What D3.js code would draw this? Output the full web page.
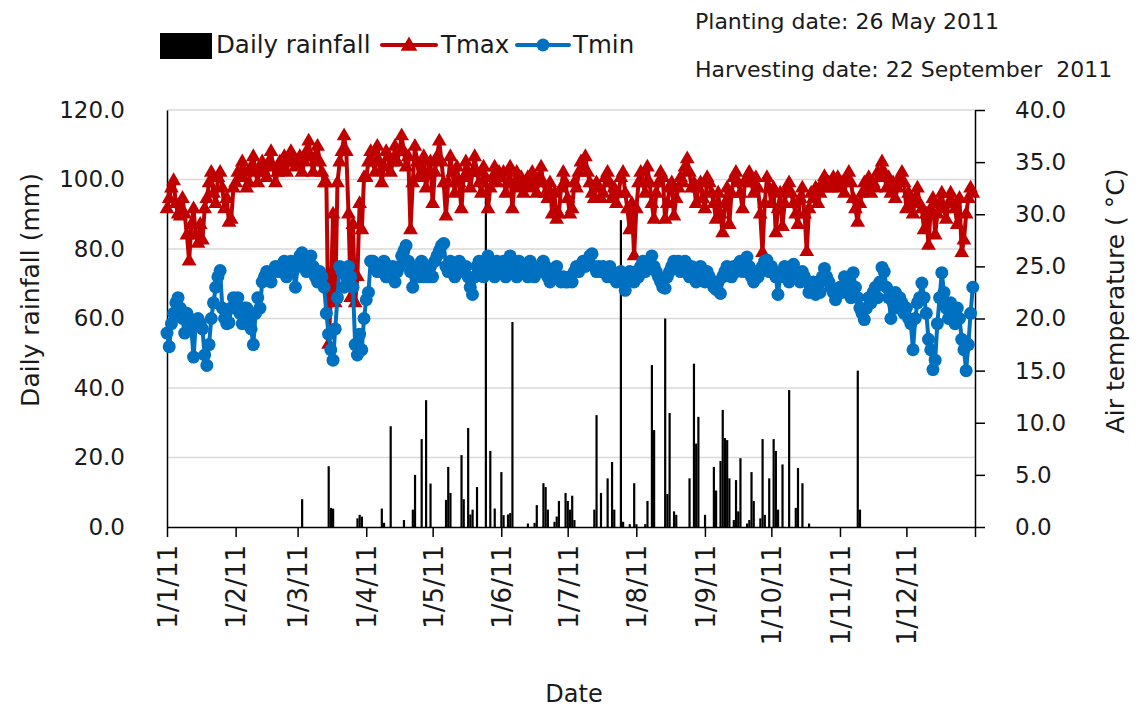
<!DOCTYPE html>
<html>
<head>
<meta charset="utf-8">
<script src="https://cdn.jsdelivr.net/npm/d3@7"></script>
<style>
  body { margin: 0; background: #fff; }
  text { font-family: "DejaVu Sans", sans-serif; fill: #1a1a1a; }
</style>
</head>
<body>
<script>
// Daily max temperature (deg C), 1 Jan - 31 Dec 2011, one line per month
var tmax = [
  30.5, 31.5, 32.5, 33.2, 31, 30, 29.8, 31.5, 30, 28, 25.5, 29, 30.5, 28, 27.2, 29, 27.5, 30.5, 31.5, 33, 34, 32, 31, 33.5, 34, 32.5, 30.5, 31.5, 29.2, 29.5, 32.5,
  33, 34, 33.5, 35, 34, 32.5, 33, 34.5, 35.5, 34, 33, 34.5, 35, 34, 33.5, 35, 36, 34.5, 33, 34, 35, 34.5, 35.5, 34, 35, 36, 35, 34.5,
  35, 35.5, 34, 35, 36, 37, 35.5, 34, 35.5, 36.5, 35, 34, 33, 33, 17.5, 22, 30, 21.5, 33, 35, 36, 37.5, 36, 30, 22, 29, 21.5, 24, 31, 28.5, 33.5,
  33.5, 35, 36, 35, 34, 36.5, 35, 33, 34.5, 36, 35.5, 34, 35, 36.5, 35, 36, 37.5, 36, 34.5, 35.5, 28.5, 33, 36.5, 35, 33.5, 34, 35.5, 32.5, 34, 35,
  31, 34, 35.5, 37, 35, 33, 29.8, 33, 35.5, 34, 32, 34.5, 33, 30.5, 33.5, 35, 34, 32.5, 34, 35.5, 34, 33, 32, 34.5, 33.5, 30.5, 32.5, 33.5, 34.5, 33, 34,
  33.5, 34, 32, 33, 34.5, 30.5, 33, 34, 32.5, 33.5, 32, 33, 33.5, 32.5, 34, 33, 32, 33.5, 34.5, 33, 32, 31.5, 33, 30, 32, 29.5, 30, 32.5, 34, 33,
  31.5, 30, 30.5, 33, 32.5, 34, 35, 34.5, 35.5, 34, 33, 32, 31.5, 33, 32.5, 31.5, 32, 33.5, 34, 33, 31.5, 32.5, 31, 32, 33.5, 34, 32, 30.5, 28.5, 31, 26,
  30.5, 33, 34, 33, 32, 34.5, 33, 31, 29.5, 32, 33, 34, 33.5, 29.5, 31, 32.5, 33, 29.8, 31.5, 32.5, 33.5, 33, 34.5, 35.3, 34, 32.5, 33, 31, 32.5, 33, 31.5,
  30.5, 33.5, 33, 32, 31, 29.5, 32, 30, 28.2, 31, 32.5, 29, 32, 33.5, 34, 33, 32, 30.5, 33, 33.5, 34, 33, 32, 33.5, 32.5, 30, 26.3, 31, 33.5, 32.5,
  31, 32.5, 28.2, 30.5, 32, 28.8, 31, 32.5, 33, 32, 31, 30, 29, 31.5, 32.5, 30, 26.4, 30.5, 32, 31.5, 32.5, 31, 32, 33, 33.6, 32.5, 33, 32.5, 33.5, 32.8, 33.5,
  32.5, 33, 32, 33.5, 34, 33, 31.5, 30.5, 29.2, 31, 32, 33, 32.5, 33.5, 32, 33, 32.5, 34, 33.5, 35, 34, 32.5, 33.5, 32, 33, 31.5, 32.5, 33.5, 34, 33,
  30.5, 32, 31, 30, 31.5, 32.5, 31, 30.5, 28.5, 30, 27, 30.5, 31.5, 28, 30, 31, 32, 30.5, 29.5, 31, 32, 31, 30.5, 29, 31.5, 26.3, 27.5, 30, 31.5, 32.5, 32
];

// Daily min temperature (deg C)
var tmin = [
  18.6, 17.3, 19.5, 20.5, 21.5, 22, 21, 20, 18.6, 20.5, 20, 19, 16.3, 19.5, 20, 19.5, 19, 16.5, 15.5, 17.5, 20, 21.5, 23, 24, 24.6, 21, 20, 19.5, 19.6, 21, 22,
  21, 22, 20.5, 19.5, 21, 21, 20, 19, 17.5, 20.5, 22, 21, 23.5, 24, 24.5, 24.2, 23.5, 24.5, 25, 24.5, 25, 24.5, 25.5, 24, 25, 25.5, 24.5, 23,
  25, 26, 26.3, 25.5, 24.5, 25.5, 26, 25, 24, 23.5, 24.5, 24, 23, 20.5, 18.5, 17, 16, 19, 22, 25, 24.5, 23, 24.5, 25, 24, 23, 17.5, 16.5, 18.5, 17, 20,
  21.8, 22.5, 25.5, 25.5, 25, 24.5, 25, 24.5, 25.5, 24, 25, 24.5, 25, 23.5, 24.5, 25, 26, 26.5, 27, 25.5, 24.5, 23, 24.5, 25, 24, 25.5, 24, 25, 24, 25,
  24, 25.5, 26, 26.5, 27, 27.2, 25, 24.5, 25.5, 25, 24, 24.5, 25.5, 25, 24.5, 25, 24, 23, 22.3, 24, 25, 25.5, 24.5, 24, 25.5, 26, 25, 24.5, 24, 25.5, 24.5,
  25, 25.5, 24, 25, 26, 25, 24.5, 24, 25.5, 25, 24.5, 25, 24, 25.5, 25, 24, 24.5, 25, 24.5, 25.5, 25, 24, 23.5, 24, 24.5, 25, 24, 23.5, 24, 23.5,
  23.5, 24, 23.5, 24.5, 25, 24.5, 25, 25.5, 25, 25.5, 26, 26.2, 25, 24.5, 25, 24.5, 25, 24.5, 24, 25, 24.5, 24, 23.5, 24, 24.5, 23.5, 22.7, 24, 24.5, 24, 23.5,
  24.5, 24, 25, 25.5, 24.5, 25, 25.5, 26, 25, 24.5, 24, 23.5, 23, 22.9, 24, 24.5, 25, 25.5, 25, 25.5, 24.5, 25, 25.5, 24.5, 24, 25, 24.5, 23.5, 24.5, 25, 24,
  23.5, 24.5, 24, 23.5, 23, 22.8, 23.5, 22.4, 24, 24.5, 25, 24.5, 24, 25, 24.5, 25, 25.5, 24.5, 25, 25.9, 25, 24, 23.5, 24.5, 24, 24.5, 25, 25.5, 25.6, 24.5,
  25, 24.5, 24, 22.3, 24, 24.5, 25, 24, 23.5, 24.5, 25.2, 24.5, 24, 23.5, 24.5, 24, 23.5, 22.5, 23, 23.5, 22.3, 23, 22.5, 24, 24.8, 24, 23.5, 23, 22.5, 21.8, 22.5,
  23, 22.5, 24, 23.5, 22.5, 22, 24.4, 23, 22, 21, 20.5, 19.9, 21, 22, 21.5, 22.5, 23, 22, 23.5, 24.9, 24.5, 23, 22, 20, 21.5, 22.5, 21, 22, 21.5, 20.5,
  21, 20, 19.5, 17, 20, 21.5, 22, 23.4, 22, 20.5, 18, 17, 15.1, 16, 19.5, 22, 24.4, 22.5, 21, 20, 21.5, 20.5, 19.5, 21, 20, 18, 17, 15, 17.5, 20.5, 23
];

// Rain days (day of year, 0 = 1 Jan) and amount (mm); other days are dry
var rainDay = [61, 73, 74, 75, 86, 87, 88, 97, 98, 101, 107, 111, 112, 115, 117, 119,
  126, 127, 128, 133, 134, 136, 137, 138, 140, 144, 146, 148, 151, 152, 154, 155, 156, 163, 166, 167, 170, 171, 172, 175, 176, 177, 180, 181,
  182, 183, 184, 193, 194, 196, 199, 201, 202, 205, 206, 209, 211, 212, 216, 217, 219, 220, 225, 226, 227, 229, 230, 236, 238, 239, 240,
  243, 247, 248, 250, 251, 252, 253, 254, 256, 257, 258, 259, 262, 263, 264, 265, 268, 269, 270, 272, 274, 275, 276, 278, 281, 284, 285, 287, 290,
  312, 313];
var rainMm = [8, 17.5, 5.5, 5.3, 2.5, 3.5, 3, 5.3, 1.2, 29, 2, 5, 15, 25.3, 36.5, 12.5,
  7.8, 17.3, 9.8, 20.7, 8, 28.5, 3.6, 5, 11.5, 98.5, 21.9, 5.3, 15.8, 3.4, 3.6, 4, 59, 1, 1.2, 6.3, 12.6, 11.5, 5, 1.5, 3, 7.5, 9.8, 7.5,
  5, 9, 2, 5, 32.2, 9.8, 14, 18.7, 5, 88.3, 1.5, 0.8, 12.6, 0.8, 0.8, 7.5, 46.6, 27.9, 60, 9.5, 32.8, 4.5, 3.5, 14, 47, 24, 31.7,
  3.5, 17.3, 10.5, 19, 33.7, 25.6, 25, 14, 2, 13.5, 4.5, 19.8, 1, 2, 15.8, 7.5, 2.5, 25.3, 3.5, 14, 25.3, 21.9, 5, 18, 39.4, 5.5, 17, 12.6, 1,
  45, 5];

var monthLabels = ["1/1/11", "1/2/11", "1/3/11", "1/4/11", "1/5/11", "1/6/11", "1/7/11", "1/8/11", "1/9/11", "1/10/11", "1/11/11", "1/12/11"];
var rainTicks = [0, 20, 40, 60, 80, 100, 120];
var tempTicks = [0, 5, 10, 15, 20, 25, 30, 35, 40];

var width = 1139, height = 711;
var plotLeft = 167, plotRight = 975, plotTop = 110, plotBottom = 527;
var start = new Date(2011, 0, 1);
function dayDate(i) { return d3.timeDay.offset(start, i); }

var svg = d3.select('body').append('svg')
  .attr('width', width)
  .attr('height', height);

var x = d3.scaleTime()
  .domain([start, new Date(2012, 0, 1)])
  .range([plotLeft, plotRight]);
var yRain = d3.scaleLinear().domain([0, 120]).range([plotBottom, plotTop]);
var yTemp = d3.scaleLinear().domain([0, 40]).range([plotBottom, plotTop]);

// gridlines
svg.append('g')
  .selectAll('line')
  .data(rainTicks.slice(1))
  .enter().append('line')
  .attr('x1', plotLeft).attr('x2', plotRight)
  .attr('y1', d => yRain(d)).attr('y2', d => yRain(d))
  .attr('stroke', '#d9d9d9')
  .attr('stroke-width', 1.5);

// rainfall bars
var rain = rainDay.map((d, i) => ({ date: dayDate(d), mm: rainMm[i] }));
svg.append('g')
  .selectAll('rect')
  .data(rain)
  .enter().append('rect')
  .attr('x', d => x(d.date) - 1)
  .attr('width', 2.2)
  .attr('y', d => yRain(d.mm))
  .attr('height', d => plotBottom - yRain(d.mm))
  .attr('fill', '#000');

// left axis (labels only, like the original)
var leftAxis = svg.append('g').attr('transform', 'translate(' + plotLeft + ',0)')
  .call(d3.axisLeft(yRain).tickValues(rainTicks).tickSize(0).tickPadding(42).tickFormat(d3.format('.1f')));
leftAxis.select('.domain').attr('stroke', '#000').attr('stroke-width', 1.5);
leftAxis.selectAll('text').style('font-size', '23px').attr('fill', '#1a1a1a');

// right axis
var rightAxis = svg.append('g').attr('transform', 'translate(' + plotRight + ',0)')
  .call(d3.axisRight(yTemp).tickValues(tempTicks).tickSize(10).tickSizeOuter(0).tickPadding(30).tickFormat(d3.format('.1f')));
rightAxis.select('.domain').attr('stroke', '#000').attr('stroke-width', 1.5);
rightAxis.selectAll('line').attr('stroke', '#000').attr('stroke-width', 1.5);
rightAxis.selectAll('text').style('font-size', '23px').attr('fill', '#1a1a1a');

// x axis
var monthDates = d3.range(12).map(m => new Date(2011, m, 1));
var xAxis = svg.append('g').attr('transform', 'translate(0,' + plotBottom + ')')
  .call(d3.axisBottom(x).tickValues(monthDates.concat([new Date(2012, 0, 1)])).tickSize(10).tickSizeOuter(0)
    .tickFormat((d, i) => monthLabels[i] || ''));
xAxis.select('.domain').attr('stroke', '#000').attr('stroke-width', 1.5);
xAxis.selectAll('line').attr('stroke', '#000').attr('stroke-width', 1.5);
xAxis.selectAll('text')
  .style('font-size', '26px')
  .attr('fill', '#1a1a1a')
  .attr('text-anchor', 'end')
  .attr('transform', 'rotate(-90)')
  .attr('x', -18).attr('y', 0).attr('dy', '0.36em');

// temperature lines
var tmaxPts = tmax.map((v, i) => ({ date: dayDate(i), t: v }));
var tminPts = tmin.map((v, i) => ({ date: dayDate(i), t: v }));
var line = d3.line().x(d => x(d.date)).y(d => yTemp(d.t));
var tri = d3.symbol().type(d3.symbolTriangle).size(95);

svg.append('path').datum(tmaxPts)
  .attr('d', line)
  .attr('fill', 'none')
  .attr('stroke', '#c00000')
  .attr('stroke-width', 4)
  .attr('stroke-linejoin', 'round');
svg.append('g').selectAll('path')
  .data(tmaxPts)
  .enter().append('path')
  .attr('d', tri)
  .attr('transform', d => 'translate(' + x(d.date) + ',' + yTemp(d.t) + ')')
  .attr('fill', '#c00000');

svg.append('path').datum(tminPts)
  .attr('d', line)
  .attr('fill', 'none')
  .attr('stroke', '#0070c0')
  .attr('stroke-width', 4)
  .attr('stroke-linejoin', 'round');
svg.append('g').selectAll('circle')
  .data(tminPts)
  .enter().append('circle')
  .attr('cx', d => x(d.date))
  .attr('cy', d => yTemp(d.t))
  .attr('r', 6.5)
  .attr('fill', '#0070c0');

// axis titles
svg.append('text')
  .attr('transform', 'translate(39,290) rotate(-90)')
  .attr('text-anchor', 'middle')
  .style('font-size', '25px')
  .text('Daily rainfall (mm)');
svg.append('text')
  .attr('transform', 'translate(1124,301) rotate(-90)')
  .attr('text-anchor', 'middle')
  .style('font-size', '25px')
  .text('Air temperature ( °C)');
svg.append('text')
  .attr('x', 574).attr('y', 702)
  .attr('text-anchor', 'middle')
  .style('font-size', '24px')
  .text('Date');

// legend
var legend = svg.append('g');
legend.append('rect').attr('x', 160).attr('y', 33).attr('width', 52).attr('height', 26).attr('fill', '#000');
legend.append('text').attr('x', 216).attr('y', 53).style('font-size', '24.5px').text('Daily rainfall');
legend.append('line').attr('x1', 382).attr('x2', 436).attr('y1', 45).attr('y2', 45)
  .attr('stroke', '#c00000').attr('stroke-width', 4).attr('stroke-linecap', 'round');
legend.append('path').attr('d', d3.symbol().type(d3.symbolTriangle).size(120))
  .attr('transform', 'translate(409,46)').attr('fill', '#c00000');
legend.append('text').attr('x', 441).attr('y', 53).style('font-size', '24.5px').text('Tmax');
legend.append('line').attr('x1', 517).attr('x2', 569).attr('y1', 45).attr('y2', 45)
  .attr('stroke', '#0070c0').attr('stroke-width', 4).attr('stroke-linecap', 'round');
legend.append('circle').attr('cx', 543).attr('cy', 45).attr('r', 6.5).attr('fill', '#0070c0');
legend.append('text').attr('x', 573).attr('y', 53).style('font-size', '24.5px').text('Tmin');

// crop dates
svg.append('text').attr('x', 695).attr('y', 29).style('font-size', '22px').style('white-space', 'pre')
  .text('Planting date: 26 May 2011');
svg.append('text').attr('x', 695).attr('y', 77).style('font-size', '22px').style('white-space', 'pre')
  .text('Harvesting date: 22 September  2011');
</script>
</body>
</html>
